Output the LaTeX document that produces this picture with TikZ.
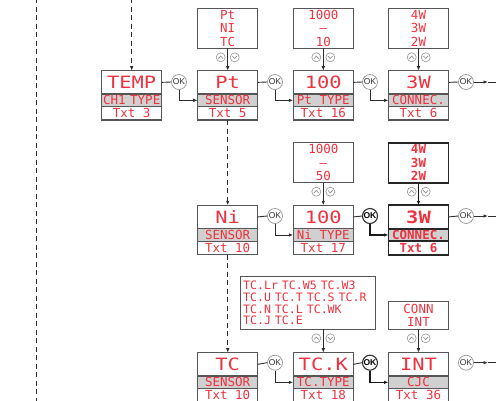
\documentclass[tikz,border=0pt]{standalone}
\usepackage{fontspec}
\setmainfont{DejaVu Sans}
\newfontfamily\led[FakeStretch=1.2]{DejaVu Sans Mono}
\newfontfamily\ledn{DejaVu Sans Mono}
\newfontfamily\oksf{Liberation Sans}
\usetikzlibrary{arrows.meta}
\definecolor{ledred}{RGB}{238,50,62}
\definecolor{boxgray}{RGB}{85,85,85}
\definecolor{rowgray}{RGB}{208,208,208}
\definecolor{okgray}{RGB}{150,150,150}
\definecolor{lineblk}{RGB}{45,45,45}
\tikzset{
 cell/.style={draw=boxgray, line width=1.2pt, minimum width=60pt, inner sep=0pt, outer sep=0pt, text=ledred},
 topcell/.style={cell, anchor=north west, minimum height=23.3pt, font=\led\fontsize{17}{17}\selectfont, text height=12.4pt, text depth=0pt},
 midcell/.style={cell, anchor=north, fill=rowgray, minimum height=12.7pt, font=\ledn\fontsize{12.5}{12.5}\selectfont, text height=9pt, text depth=0pt},
 botcell/.style={cell, anchor=north, minimum height=13.3pt, font=\ledn\fontsize{12.5}{12.5}\selectfont, text height=9pt, text depth=0pt},
 heavy/.style={draw=black!85, line width=1.9pt},
 optbox/.style={cell, anchor=north west, minimum height=40pt, align=center, font=\ledn\fontsize{12.5}{13.3}\selectfont},
 okc/.style={circle, draw=okgray, line width=0.7pt, fill=white, inner sep=0pt, minimum size=15pt, font=\oksf\fontsize{8.5}{8.5}\selectfont, text=black!80},
 okb/.style={okc, draw=black!80, line width=1.1pt, font=\oksf\bfseries\fontsize{8.5}{8.5}\selectfont, text=black},
 udc/.style={circle, draw=okgray, line width=0.6pt, fill=white, inner sep=0pt, minimum size=9pt},
 conn/.style={draw=lineblk, line width=0.9pt},
 connb/.style={draw=black!90, line width=1.5pt},
 arr/.style={-{Latex[length=4.5pt,width=3.5pt]}},
 dashln/.style={draw=lineblk, line width=1pt, dash pattern=on 5pt off 3.5pt},
 chev/.pic={\draw[okgray!90!black, line width=0.6pt] (-2.4,1.3) -- (0,-1.2) -- (2.4,1.3);},
 chevd/.pic={\draw[okgray!90!black, line width=0.6pt] (-2.4,-1.3) -- (0,1.2) -- (2.4,-1.3);}
}
\newcommand{\disp}[7]{%
 \node[topcell,#7] (#1) at (#2,#3) {#4};
 \node[midcell,#7] (#1m) at (#1.south) {#5};
 \node[botcell,#7] (#1b) at (#1m.south) {#6};}
\newcommand{\updown}[3]{%
 \node[udc] (#1l) at (#2-7,#3) {};
 \node[udc] (#1r) at (#2+7,#3) {};
 \pic at (#1l) {chev};
 \pic at (#1r) {chevd};}
\begin{document}
\begin{tikzpicture}[x=1pt,y=-1pt]
\useasboundingbox (0,0) rectangle (496,400);
\clip (0,0) rectangle (496,400);
% dashed lines
\coordinate (lt) at (36,-2);
\coordinate (lb) at (36,402);
\draw[dashln] (lt) -- (lb);
% row 1
\disp{temp}{101.7}{70.7}{TEMP}{CH1\kern-3pt\ TYPE}{Txt 3}{}
\disp{pt}{197.7}{70.7}{Pt}{SENSOR}{Txt 5}{}
\disp{ha}{293.3}{70.7}{100}{Pt TYPE}{Txt 16}{}
\disp{wa}{388.5}{70.7}{3W}{CONNEC.}{Txt 6}{}
\node[optbox] (opt1) at (197.7,8.3) {Pt\\NI\\TC};
\node[optbox] (opt2) at (293.3,8.3) {1000\\–\\10};
\node[optbox] (opt3) at (388.5,8.3) {4W\\3W\\2W};
% row 2
\disp{ni}{197.7}{205.3}{Ni}{SENSOR}{Txt 10}{}
\disp{hb}{293.3}{205.3}{100}{Ni TYPE}{Txt 17}{}
\disp{wb}{388.5}{205.3}{\bfseries 3W}{\bfseries CONNEC.}{\bfseries Txt 6}{heavy}
\node[optbox] (opt4) at (293.3,142.7) {1000\\–\\50};
\node[optbox,heavy] (opt5) at (388.5,142.7) {\bfseries 4W\\\bfseries 3W\\\bfseries 2W};
% row 3
\disp{tc}{197.7}{352.7}{TC}{SENSOR}{Txt 10}{}
\disp{tk}{293.3}{352.7}{TC.K}{TC.TYPE}{Txt 18}{}
\disp{in}{388.5}{352.7}{INT}{CJC}{Txt 36}{}
\node[cell, anchor=north west, minimum width=135pt, minimum height=52.6pt, inner xsep=1pt, text width=133pt, align=left, font=\ledn\fontsize{11.6}{11.6}\selectfont] (opt6) at (240.7,276.7) {\hspace*{1.5pt}TC.Lr TC.W5 TC.W3\\\hspace*{1.5pt}TC.U TC.T TC.S TC.R\\\hspace*{1.5pt}TC.N TC.L TC.WK\\\hspace*{1.5pt}TC.J TC.E};
\node[cell, anchor=north west, minimum height=27.6pt, align=center, font=\ledn\fontsize{12.5}{13}\selectfont] (opt7) at (388.5,301.7) {CONN\\INT};
% dashed connectors
\coordinate (tin) at (131.7,-2);
\draw[dashln, arr] (tin) -- (temp.north);
\draw[dashln, arr] (ptb.south) -- (ni.north);
\draw[dashln, arr] (nib.south) -- (tc.north);
% option arrows
\draw[conn, arr] (opt1.south) -- (pt.north);
\draw[conn, arr] (opt2.south) -- (ha.north);
\draw[conn, arr] (opt3.south) -- (wa.north);
\draw[conn, arr] (opt4.south) -- (hb.north);
\draw[connb, arr] (opt5.south) -- (wb.north);
\draw[conn, arr] (tk.north |- opt6.south) -- (tk.north);
\draw[conn, arr] (opt7.south) -- (in.north);
\updown{ua}{227.7}{57.3}
\updown{ub}{323.3}{57.3}
\updown{uc}{418.7}{57.3}
\updown{ud}{323.3}{191.7}
\updown{ue}{418.7}{191.7}
\updown{uf}{323.3}{338.3}
\updown{ug}{418.7}{338.3}
% OK nodes row 1
\node[okc] (k1a) at (179,82) {OK};
\node[okc] (k1b) at (275,82) {OK};
\node[okc] (k1c) at (370,82) {OK};
\node[okc] (k1d) at (466,82) {OK};
\draw[conn] (temp.east) -- (k1a.west);
\draw[conn, arr] (k1a.south) |- (ptm.west);
\draw[conn] (pt.east) -- (k1b.west);
\draw[conn, arr] (k1b.south) |- (ham.west);
\draw[conn] (ha.east) -- (k1c.west);
\draw[conn, arr] (k1c.south) |- (wam.west);
\draw[conn] (wa.east) -- (k1d.west);
\coordinate (e1) at (488,82);
\coordinate (f1) at (498,82);
\draw[conn, arr] (k1d.east) -- (e1);
\draw[conn] (e1) -- (f1);
% OK nodes row 2
\node[okc] (k2b) at (275,216) {OK};
\node[okb] (k2c) at (370,216) {OK};
\node[okc] (k2d) at (466,216) {OK};
\draw[conn] (ni.east) -- (k2b.west);
\draw[conn, arr] (k2b.south) |- (hbm.west);
\draw[conn] (hb.east) -- (k2c.west);
\draw[connb, arr] (k2c.south) |- (wbm.west);
\draw[conn] (wb.east) -- (k2d.west);
\coordinate (e2) at (488,216);
\coordinate (f2) at (498,216);
\draw[conn, arr] (k2d.east) -- (e2);
\draw[conn] (e2) -- (f2);
% OK nodes row 3
\node[okc] (k3b) at (275,362.7) {OK};
\node[okb] (k3c) at (370,362.7) {OK};
\node[okc] (k3d) at (466,362.7) {OK};
\draw[conn] (tc.east) -- (k3b.west);
\draw[conn, arr] (k3b.south) |- (tkm.west);
\draw[conn] (tk.east) -- (k3c.west);
\draw[connb, arr] (k3c.south) |- (inm.west);
\coordinate (e3) at (488,362.7);
\coordinate (f3) at (498,362.7);
\draw[conn, arr] (k3d.east) -- (e3);
\draw[conn] (e3) -- (f3);
\end{tikzpicture}
\end{document}
